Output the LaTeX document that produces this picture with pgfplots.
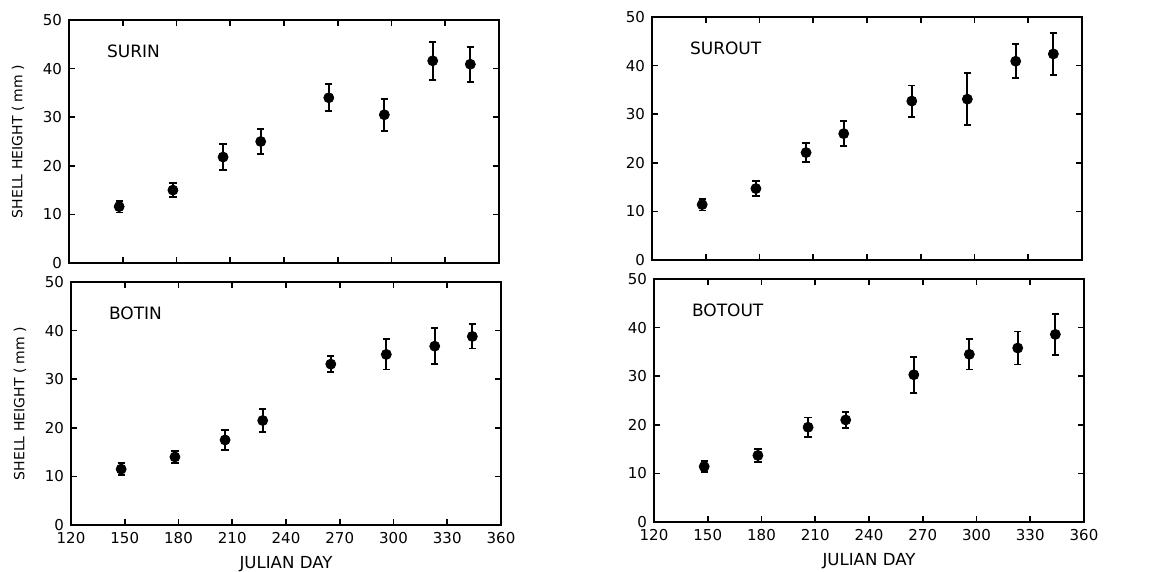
\documentclass[border=0pt]{standalone}
\usepackage{fontspec}
\setmainfont{DejaVu Sans}
\usepackage{pgfplots}
\usepackage{pgfplotstable}
\pgfplotsset{compat=1.18}

% day, mean shell height, error
\pgfplotstableread{
day h err
148 11.6 1.2
178 15.0 1.5
206 21.8 2.7
227 25.0 2.5
265 34.0 2.8
296 30.5 3.3
323 41.6 3.9
344 40.9 3.6
}\surin
\pgfplotstableread{
day h err
148 11.4 1.2
178 14.7 1.6
206 22.1 2.0
227 26.0 2.6
265 32.7 3.2
296 33.1 5.3
323 40.9 3.5
344 42.4 4.3
}\surout
\pgfplotstableread{
day h err
148 11.5 1.2
178 14.0 1.3
206 17.5 2.0
227 21.5 2.4
265 33.1 1.6
296 35.1 3.1
323 36.8 3.7
344 38.8 2.5
}\botin
\pgfplotstableread{
day h err
148 11.4 1.1
178 13.7 1.4
206 19.5 2.0
227 21.0 1.7
265 30.3 3.7
296 34.5 3.1
323 35.8 3.4
344 38.6 4.2
}\botout

\pgfplotsset{
  shell/.style={
    scale only axis, width=215pt, height=121.5pt,
    xmin=120, xmax=360, ymin=0, ymax=50,
    xtick={120,150,...,360}, ytick={0,10,...,50},
    tick align=inside, major tick length=3pt,
    axis line style={line width=1pt},
    tick style={line width=0.8pt, black},
    /pgf/number format/assume math mode=true,
    tick label style={font=\fontsize{7.5}{8}\selectfont},
    label style={font=\fontsize{7}{8}\selectfont},
    ylabel style={at={(rel axis cs:0,0.5)}, anchor=center, yshift=25.5pt},
    xlabel style={at={(rel axis cs:0.5,0)}, anchor=center, yshift=-19.5pt,
      font=\fontsize{8.3}{9}\selectfont},
    clip=false,
  },
  pts/.style={only marks, mark=*, mark size=2.5pt, black,
    mark options={fill=black, draw=black},
    error bars/.cd, y dir=both, y explicit,
    error bar style={line width=0.9pt, black},
    error mark options={rotate=90, mark size=1.8pt, line width=0.9pt, black}},
}

\newcommand{\panel}[1]{\node[anchor=west, font=\fontsize{8.5}{9}\selectfont] at (rel axis cs:0.072,0.87) {#1};}

\begin{document}
\begin{tikzpicture}
\useasboundingbox (0,0) rectangle (578pt,-286pt);

\begin{axis}[shell, at={(34.5pt,-131.5pt)}, anchor=south west,
  xticklabels={}, ylabel={SHELL HEIGHT ( mm )}]
\addplot[pts] table[x=day, y=h, y error=err] {\surin};
\panel{SURIN}
\end{axis}

\begin{axis}[shell, at={(326pt,-130pt)}, anchor=south west,
  xticklabels={}]
\addplot[pts] table[x=day, y=h, y error=err] {\surout};
\panel{SUROUT}
\end{axis}

\begin{axis}[shell, at={(35.5pt,-262.5pt)}, anchor=south west,
  xlabel={JULIAN DAY}, ylabel={SHELL HEIGHT ( mm )}]
\addplot[pts] table[x=day, y=h, y error=err] {\botin};
\panel{BOTIN}
\end{axis}

\begin{axis}[shell, at={(327pt,-261pt)}, anchor=south west,
  xlabel={JULIAN DAY}]
\addplot[pts] table[x=day, y=h, y error=err] {\botout};
\panel{BOTOUT}
\end{axis}
\end{tikzpicture}
\end{document}
